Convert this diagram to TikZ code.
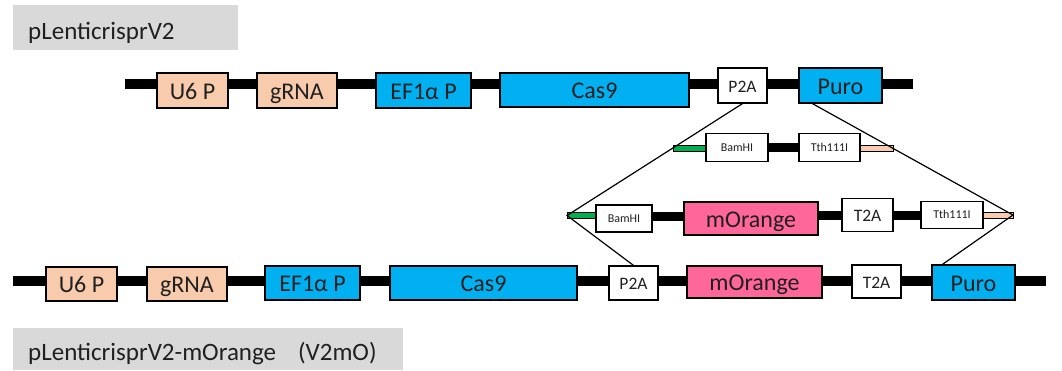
\documentclass[tikz,border=0pt]{standalone}
\usepackage{fontspec}
\setmainfont{Carlito}
\usepackage{xcolor}
\usetikzlibrary{calc}

\definecolor{peach}{HTML}{F8CBAD}
\definecolor{vecblue}{HTML}{00B0F0}
\definecolor{mopink}{HTML}{FF6699}
\definecolor{insgreen}{HTML}{00B050}
\definecolor{labelgray}{HTML}{D9D9D9}
\definecolor{inkgray}{HTML}{202020}

\tikzset{
  genepart/.style={draw, line width=1.2pt, inner sep=0pt, text=inkgray,
    text height=17pt, text depth=0pt, font=\fontsize{24}{28}\selectfont},
  tagpart/.style={genepart, fill=white, text height=13pt, font=\fontsize{17.5}{20}\selectfont},
  sitepart/.style={genepart, fill=white, text height=7pt, font=\fontsize{12}{14}\selectfont},
  backbone/.style={line width=10pt},
  fragbar/.style={line width=9pt},
  link/.style={line width=1.2pt},
  vectag/.style={anchor=base west, inner sep=0pt, text=inkgray, font=\fontsize{25}{30}\selectfont}
}

\begin{document}
\begin{tikzpicture}[x=1pt,y=-1pt]
  \useasboundingbox (0,0) rectangle (1062,370);

  % Vector names on grey panels
  \fill[labelgray] (13,5) rectangle (238,50);
  \fill[labelgray] (13,328) rectangle (403,370);
  \node[vectag] (nameV2) at (28,39) {pLenticrisprV2};
  \node[vectag] (nameV2mO) at (28,360) {pLenticrisprV2-mOrange\hspace{22pt}(V2mO)};

  % Original vector: backbone first, parts on top
  \coordinate (topL) at (125,84);
  \coordinate (topR) at (913,84);
  \draw[backbone] (topL) -- (topR);
  \node[genepart, fill=peach, minimum width=71pt, minimum height=35pt] (u6top) at (192.5,90.5) {U6 P};
  \node[genepart, fill=peach, minimum width=80pt, minimum height=35pt] (grnatop) at (297,90.5) {gRNA};
  \node[genepart, fill=vecblue, minimum width=95pt, minimum height=35pt] (eftop) at (423.5,90.5) {EF1α P};
  \node[genepart, fill=vecblue, minimum width=189pt, minimum height=34pt] (castop) at (594.5,90) {Cas9};
  \node[tagpart, minimum width=49pt, minimum height=35pt] (p2atop) at (742.5,85.5) {P2A};
  \node[genepart, fill=vecblue, minimum width=83pt, minimum height=35pt] (purotop) at (840.5,85.5) {Puro};

  % Linker fragment with the two sites
  \filldraw[fill=insgreen, line width=0.6pt] (673,145) rectangle (706,151);
  \filldraw[fill=peach, line width=0.6pt] (860,145) rectangle (893,151);
  \node[sitepart, minimum width=62pt, minimum height=28pt] (bam1) at (737,147.5) {BamHI};
  \node[sitepart, minimum width=61pt, minimum height=28pt] (tth1) at (829.5,147.5) {Tth111I};
  \draw[fragbar] (bam1) -- (tth1);

  % Insert with mOrange and T2A
  \filldraw[fill=insgreen, line width=0.6pt] (567,212.5) rectangle (596,218.5);
  \filldraw[fill=peach, line width=0.6pt] (983,212) rectangle (1013,218);
  \node[sitepart, minimum width=56pt, minimum height=27pt] (bam2) at (624,218.5) {BamHI};
  \node[genepart, fill=mopink, minimum width=134pt, minimum height=33pt] (morf) at (751,218.5) {mOrange};
  \node[tagpart, minimum width=51pt, minimum height=33pt] (t2af) at (867.5,215) {T2A};
  \node[sitepart, minimum width=62pt, minimum height=27pt] (tth2) at (952,215) {Tth111I};
  \draw[fragbar] (bam2.east |- 0,216) -- (morf.west |- 0,216)
    (morf.east |- t2af.west) -- (t2af.west) (t2af) -- (tth2);

  % Resulting vector
  \coordinate (botL) at (13,281);
  \coordinate (botR) at (1046,281);
  \draw[backbone] (botL) -- (botR);
  \node[genepart, fill=peach, minimum width=71pt, minimum height=34pt] (u6bot) at (81.5,284) {U6 P};
  \node[genepart, fill=peach, minimum width=80pt, minimum height=34pt] (grnabot) at (187,284) {gRNA};
  \node[genepart, fill=vecblue, minimum width=95pt, minimum height=34pt] (efbot) at (312.5,283) {EF1α P};
  \node[genepart, fill=vecblue, minimum width=187pt, minimum height=34pt] (casbot) at (483.5,283) {Cas9};
  \node[tagpart, minimum width=49pt, minimum height=34pt] (p2abot) at (633.5,283) {P2A};
  \node[genepart, fill=mopink, minimum width=135pt, minimum height=32pt] (morbot) at (754.5,282) {mOrange};
  \node[tagpart, minimum width=49pt, minimum height=33pt] (t2abot) at (876.5,281.5) {T2A};
  \node[genepart, fill=vecblue, minimum width=83pt, minimum height=35pt] (purobot) at (973.5,282.5) {Puro};

  % Cloning lines
  \coordinate (insL) at (567,215.5);
  \coordinate (insR) at (1013,215);
  \draw[link] (p2atop.south) -- (insL) -- (p2abot.north);
  \draw[link] ([xshift=14pt]purotop.south west) -- (insR) -- ([xshift=11pt]purobot.north west);
\end{tikzpicture}
\end{document}
